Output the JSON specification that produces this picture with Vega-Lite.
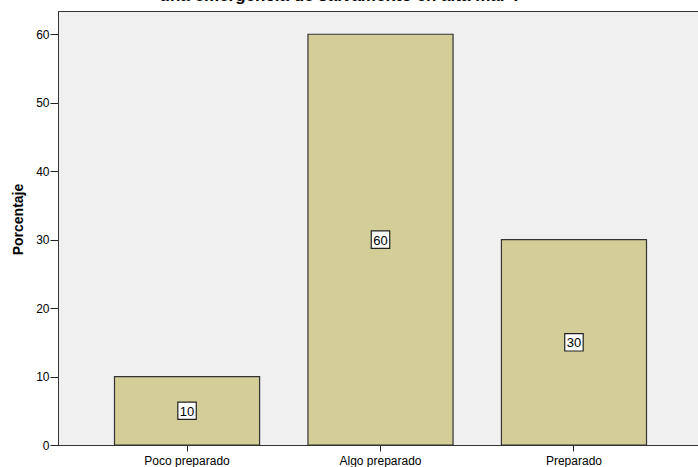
{
  "$schema": "https://vega.github.io/schema/vega-lite/v6.json",
  "autosize": {"type": "none"},
  "padding": {"left": 58, "top": 11, "right": 0, "bottom": 22},
  "width": 645,
  "height": 434,
  "background": "white",
  "title": {
    "text": "una emergencia de salvamento en alta mar ?",
    "anchor": "middle",
    "frame": "group",
    "font": "Liberation Sans",
    "fontSize": 17,
    "fontWeight": "bold",
    "color": "#000000",
    "baseline": "alphabetic",
    "offset": 0,
    "dy": 7,
    "dx": -40
  },
  "config": {
    "view": {"fill": "#F0F0F0", "stroke": "#333333", "strokeWidth": 1},
    "font": "Liberation Sans"
  },
  "data": {
    "values": [
      {"categoria": "Poco preparado", "porcentaje": 10},
      {"categoria": "Algo preparado", "porcentaje": 60},
      {"categoria": "Preparado", "porcentaje": 30}
    ]
  },
  "encoding": {
    "x": {
      "field": "categoria",
      "type": "nominal",
      "sort": null,
      "scale": {"paddingInner": 0.25, "paddingOuter": 0.292},
      "axis": {
        "title": null,
        "labelAngle": 0,
        "labelFont": "Liberation Sans",
        "labelFontSize": 12,
        "labelColor": "#000000",
        "labelPadding": 4,
        "tickSize": 6,
        "tickColor": "#222222",
        "domainColor": "#333333",
        "grid": false
      }
    },
    "y": {
      "field": "porcentaje",
      "type": "quantitative",
      "scale": {"domain": [0, 63.4], "nice": false},
      "axis": {
        "title": "Porcentaje",
        "titleFont": "Liberation Sans",
        "titleFontSize": 14,
        "titleFontWeight": "bold",
        "titleColor": "#000000",
        "titleAngle": -90,
        "titleX": -40,
        "titleY": 208,
        "titleAlign": "center",
        "titleBaseline": "middle",
        "values": [0, 10, 20, 30, 40, 50, 60],
        "labelFont": "Liberation Sans",
        "labelFontSize": 12,
        "labelColor": "#000000",
        "labelPadding": 1,
        "tickSize": 8,
        "tickColor": "#222222",
        "domainColor": "#333333",
        "grid": false
      }
    }
  },
  "layer": [
    {
      "mark": {"type": "bar", "fill": "#D3CE98", "stroke": "#333333", "strokeWidth": 1.2}
    },
    {
      "mark": {
        "type": "point",
        "shape": "M-1,-0.94H1V0.94H-1Z",
        "size": 340,
        "filled": true,
        "fill": "#FFFFFF",
        "stroke": "#222222",
        "strokeWidth": 1.2,
        "opacity": 1
      },
      "encoding": {
        "y": {"field": "mid", "type": "quantitative"}
      },
      "transform": [{"calculate": "datum.porcentaje / 2", "as": "mid"}]
    },
    {
      "mark": {
        "type": "text",
        "font": "Liberation Sans",
        "fontSize": 13,
        "color": "#000000",
        "baseline": "middle",
        "align": "center",
        "dy": 1
      },
      "encoding": {
        "y": {"field": "mid", "type": "quantitative"},
        "text": {"field": "porcentaje", "type": "quantitative"}
      },
      "transform": [{"calculate": "datum.porcentaje / 2", "as": "mid"}]
    }
  ]
}
